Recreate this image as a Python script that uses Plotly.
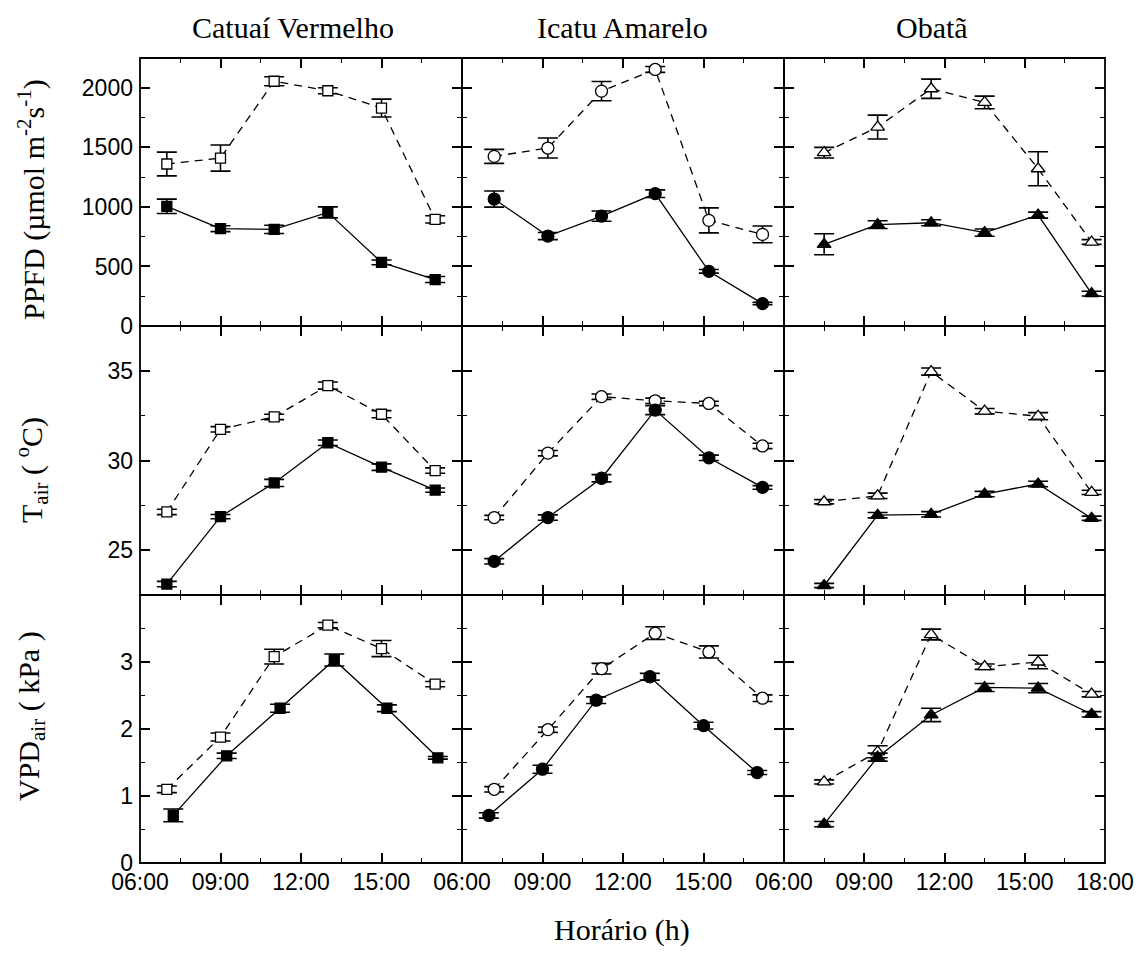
import plotly.graph_objects as go

# ---------------- data ----------------
cultivars = ["Catuaí Vermelho", "Icatu Amarelo", "Obatã"]
x_tick_vals = [6, 9, 12, 15, 18]
x_tick_text = ["06:00", "09:00", "12:00", "15:00", "18:00"]

# sampling times (h)
cv_x = [7.0, 9.0, 11.0, 13.0, 15.0, 17.0]
cv_x_vpd_fill = [7.24, 9.23, 11.22, 13.24, 15.2, 17.1]
ic_x = [7.2, 9.2, 11.2, 13.2, 15.2, 17.2]
ic_x_vpd_fill = [7.0, 9.0, 11.0, 13.0, 15.0, 17.0]
ob_x = [7.5, 9.5, 11.5, 13.5, 15.5, 17.5]

# PPFD (umol m-2 s-1)
cv_ppfd_open = [1360, 1410, 2055, 1975, 1830, 895]
cv_ppfd_open_err = [100, 110, 38, 25, 75, 30]
cv_ppfd_fill = [1005, 817, 811, 954, 534, 390]
cv_ppfd_fill_err = [60, 25, 35, 46, 20, 25]

ic_ppfd_open = [1424, 1494, 1972, 2154, 887, 769]
ic_ppfd_open_err = [59, 84, 81, 25, 105, 70]
ic_ppfd_fill = [1066, 755, 923, 1111, 459, 188]
ic_ppfd_fill_err = [68, 30, 43, 32, 15, 10]

ob_ppfd_open = [1455, 1670, 1992, 1877, 1320, 705]
ob_ppfd_open_err = [45, 100, 81, 53, 143, 20]
ob_ppfd_fill = [686, 851, 867, 784, 931, 272]
ob_ppfd_fill_err = [88, 33, 25, 30, 25, 20]

# Tair (oC)
cv_tair_open = [27.13, 31.74, 32.43, 34.18, 32.58, 29.44]
cv_tair_open_err = [0.15, 0.15, 0.15, 0.2, 0.2, 0.15]
cv_tair_fill = [23.11, 26.87, 28.75, 30.99, 29.63, 28.35]
cv_tair_fill_err = [0.15, 0.12, 0.2, 0.15, 0.18, 0.12]

ic_tair_open = [26.82, 30.41, 33.56, 33.33, 33.18, 30.81]
ic_tair_open_err = [0.12, 0.15, 0.15, 0.15, 0.12, 0.15]
ic_tair_fill = [24.38, 26.82, 29.01, 32.81, 30.15, 28.5]
ic_tair_fill_err = [0.15, 0.15, 0.2, 0.25, 0.15, 0.1]

ob_tair_open = [27.70, 28.03, 34.96, 32.75, 32.47, 28.22]
ob_tair_open_err = [0.12, 0.15, 0.2, 0.15, 0.2, 0.12]
ob_tair_fill = [23.03, 26.95, 27.0, 28.13, 28.69, 26.78]
ob_tair_fill_err = [0.12, 0.15, 0.15, 0.15, 0.15, 0.12]

# VPDair (kPa)
cv_vpd_open = [1.10, 1.88, 3.08, 3.55, 3.20, 2.67]
cv_vpd_open_err = [0.05, 0.06, 0.11, 0.04, 0.12, 0.04]
cv_vpd_fill = [0.71, 1.60, 2.31, 3.03, 2.31, 1.57]
cv_vpd_fill_err = [0.095, 0.04, 0.06, 0.09, 0.05, 0.02]

ic_vpd_open = [1.10, 1.99, 2.90, 3.43, 3.15, 2.46]
ic_vpd_open_err = [0.04, 0.04, 0.08, 0.095, 0.09, 0.05]
ic_vpd_fill = [0.71, 1.40, 2.43, 2.78, 2.05, 1.35]
ic_vpd_fill_err = [0.04, 0.06, 0.05, 0.05, 0.05, 0.03]

ob_vpd_open = [1.21, 1.66, 3.41, 2.93, 3.00, 2.52]
ob_vpd_open_err = [0.03, 0.09, 0.08, 0.04, 0.1, 0.04]
ob_vpd_fill = [0.58, 1.58, 2.21, 2.62, 2.61, 2.22]
ob_vpd_fill_err = [0.04, 0.06, 0.1, 0.06, 0.07, 0.04]

# ---------------- figure ----------------
W, H = 1146, 962
col_px = [(140, 462), (462, 784), (784, 1105)]
row_px = [(58, 326), (326, 595), (595, 863)]
xdom = [[a / W, b / W] for a, b in col_px]
ydom = [[1 - b / H, 1 - a / H] for a, b in row_px]

symbols = ["square", "circle", "triangle-up"]
msizes = [10, 12, 12]

panels = {
    (0, 0): [(cv_x, cv_ppfd_open, cv_ppfd_open_err, False), (cv_x, cv_ppfd_fill, cv_ppfd_fill_err, True)],
    (0, 1): [(ic_x, ic_ppfd_open, ic_ppfd_open_err, False), (ic_x, ic_ppfd_fill, ic_ppfd_fill_err, True)],
    (0, 2): [(ob_x, ob_ppfd_open, ob_ppfd_open_err, False), (ob_x, ob_ppfd_fill, ob_ppfd_fill_err, True)],
    (1, 0): [(cv_x, cv_tair_open, cv_tair_open_err, False), (cv_x, cv_tair_fill, cv_tair_fill_err, True)],
    (1, 1): [(ic_x, ic_tair_open, ic_tair_open_err, False), (ic_x, ic_tair_fill, ic_tair_fill_err, True)],
    (1, 2): [(ob_x, ob_tair_open, ob_tair_open_err, False), (ob_x, ob_tair_fill, ob_tair_fill_err, True)],
    (2, 0): [(cv_x, cv_vpd_open, cv_vpd_open_err, False), (cv_x_vpd_fill, cv_vpd_fill, cv_vpd_fill_err, True)],
    (2, 1): [(ic_x, ic_vpd_open, ic_vpd_open_err, False), (ic_x_vpd_fill, ic_vpd_fill, ic_vpd_fill_err, True)],
    (2, 2): [(ob_x, ob_vpd_open, ob_vpd_open_err, False), (ob_x, ob_vpd_fill, ob_vpd_fill_err, True)],
}

y_ranges = [[0, 2250], [22.5, 37.5], [0, 4]]
y_ticks = [[0, 500, 1000, 1500, 2000], [25, 30, 35], [0, 1, 2, 3]]
y_minor = [250, 2.5, 0.5]

fig = go.Figure()
tick_font = dict(family="Liberation Sans, Arial", size=23, color="black")
layout = {}
shapes = []

for r in range(3):
    for c in range(3):
        idx = r * 3 + c + 1
        xs = "x" if idx == 1 else f"x{idx}"
        ys = "y" if idx == 1 else f"y{idx}"
        for (xv, yv, ev, filled) in panels[(r, c)]:
            fig.add_trace(go.Scatter(
                x=xv, y=yv, xaxis=xs, yaxis=ys, mode="lines+markers",
                showlegend=False,
                line=dict(color="black", width=1.3, dash="solid" if filled else "8px,6px"),
                marker=dict(symbol=symbols[c], size=msizes[c],
                            color="black" if filled else "white",
                            line=dict(color="black", width=1.3)),
                error_y=dict(type="data", array=ev, visible=True, color="black",
                             thickness=1.6, width=10),
            ))
        ttext = x_tick_text if c == 2 else x_tick_text[:-1] + [""]
        layout["xaxis" if idx == 1 else f"xaxis{idx}"] = dict(
            domain=xdom[c], anchor=ys, range=[6, 18],
            tickvals=x_tick_vals, ticktext=ttext, showticklabels=(r == 2),
            ticks="inside", ticklen=10, tickwidth=1.5, tickcolor="black",
            showline=False, mirror="ticks",
            showgrid=False, zeroline=False, automargin=False,
            minor=dict(ticks="inside", ticklen=5, tickwidth=1.2, tickcolor="black",
                       tick0=6, dtick=1.5, showgrid=False),
            tickfont=tick_font, ticklabelstandoff=3,
        )
        layout["yaxis" if idx == 1 else f"yaxis{idx}"] = dict(
            domain=ydom[r], anchor=xs, range=y_ranges[r],
            tickvals=y_ticks[r], showticklabels=(c == 0),
            ticks="inside", ticklen=10, tickwidth=1.5, tickcolor="black",
            showline=False, mirror="ticks",
            showgrid=False, zeroline=False, automargin=False,
            minor=dict(ticks="inside", ticklen=5, tickwidth=1.2, tickcolor="black",
                       dtick=y_minor[r], showgrid=False),
            tickfont=tick_font, ticklabelstandoff=6,
        )
        shapes.append(dict(type="rect", xref="paper", yref="paper",
                           x0=xdom[c][0], x1=xdom[c][1], y0=ydom[r][0], y1=ydom[r][1],
                           line=dict(color="black", width=1.8), layer="above"))

serif = "Liberation Serif, Times New Roman, serif"
annotations = []
title_cx = [293, 622, 932]
for name, cx in zip(cultivars, title_cx):
    annotations.append(dict(text=name, x=cx / W, y=1 - 27 / H, xref="paper", yref="paper",
                            xanchor="center", yanchor="middle", showarrow=False,
                            font=dict(family=serif, size=30, color="black")))

y_titles = [
    ("PPFD (µmol m<sup>-2</sup>s<sup>-1</sup>)", 200),
    ("T<sub>air</sub> ( <sup>o</sup>C)", 470),
    ("VPD<sub>air</sub> ( kPa )", 716),
]
for txt, cy in y_titles:
    annotations.append(dict(text=txt, x=31 / W, y=1 - cy / H, xref="paper", yref="paper",
                            xanchor="center", yanchor="middle", showarrow=False, textangle=-90,
                            font=dict(family=serif, size=30, color="black")))

annotations.append(dict(text="Horário (h)", x=622 / W, y=1 - 930 / H, xref="paper", yref="paper",
                        xanchor="center", yanchor="middle", showarrow=False,
                        font=dict(family=serif, size=30, color="black")))

fig.update_layout(
    width=W, height=H, margin=dict(l=0, r=0, t=0, b=0),
    paper_bgcolor="white", plot_bgcolor="white", template="none",
    annotations=annotations, shapes=shapes, **layout,
)

fig.write_html("out.html", config={"displayModeBar": False},
               post_script="document.body.style.margin='0';")
